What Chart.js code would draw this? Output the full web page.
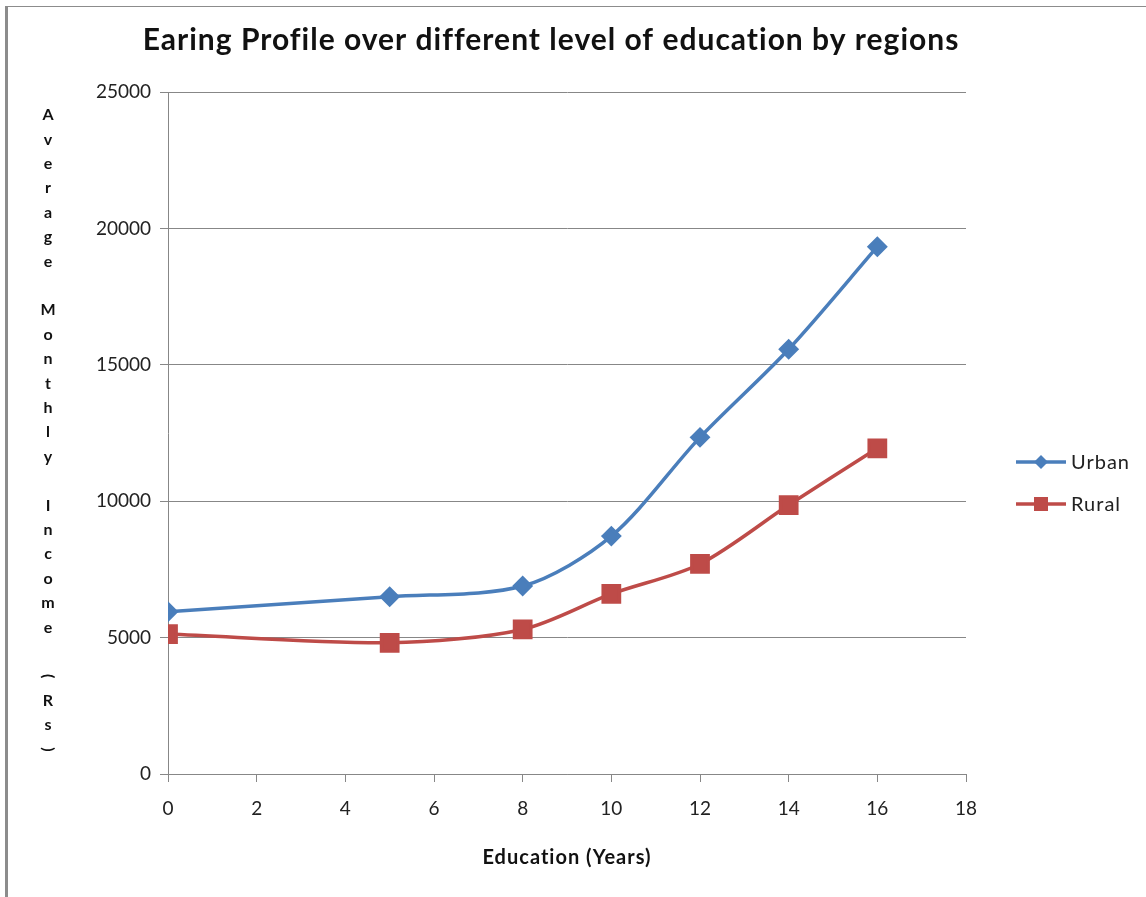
<!DOCTYPE html>
<html>
<head>
<meta charset="utf-8">
<title>Earing Profile</title>
<script src="https://cdn.jsdelivr.net/npm/chart.js@4/dist/chart.umd.min.js"></script>
<style>
  html, body { margin: 0; padding: 0; background: #fff; }
  #wrap { position: relative; width: 1146px; height: 897px; overflow: hidden; }
  #chart { position: absolute; left: 0; top: 0; }
  .edge-left { position: absolute; left: 5px; top: 6px; bottom: 0; width: 3px; background: #8c8c8c; }
  .edge-top { position: absolute; left: 5px; top: 6px; right: 0; height: 1px; background: #8c8c8c; }
</style>
</head>
<body>
<div id="wrap">
  <canvas id="chart" width="1146" height="897"></canvas>
  <div class="edge-left"></div>
  <div class="edge-top"></div>
</div>
<script>
const years = [0, 5, 8, 10, 12, 14, 16];
const urban = [5950, 6500, 6890, 8720, 12340, 15570, 19330];
const rural = [5130, 4810, 5300, 6600, 7700, 9860, 11940];
const seriesNames = ['Urban', 'Rural'];
const seriesColors = ['#4a7ebb', '#be4b48'];

const titleText = 'Earing Profile over different level of education by regions';
const xTitle = 'Education (Years)';
const yTitle = 'Average Monthly Income (Rs)';

const font = 'Lato, "Open Sans", sans-serif';
const gridColor = '#878787';

function points(ys) {
    return years.map((x, i) => ({ x: x, y: ys[i] }));
}

// title, stacked y title and legend, placed the way Excel does it
const textPlugin = {
    id: 'excelText',
    afterDraw(chart) {
        const ctx = chart.ctx;
        const area = chart.chartArea;
        ctx.save();
        ctx.fillStyle = '#111';
        ctx.textAlign = 'center';
        ctx.textBaseline = 'middle';
        ctx.letterSpacing = '1px';

        ctx.font = 'bold 30px ' + font;
        ctx.fillText(titleText, 551, 40);

        ctx.font = 'bold 20px ' + font;
        ctx.fillText(xTitle, (area.left + area.right) / 2, 858);

        // stacked letters, brackets turned on their side
        ctx.letterSpacing = '0px';
        ctx.font = 'bold 16px ' + font;
        let y = 115;
        yTitle.split('').forEach(ch => {
            if (ch === '(' || ch === ')') {
                ctx.save();
                ctx.translate(48, y);
                ctx.rotate(Math.PI / 2);
                ctx.fillText(ch, 0, 0);
                ctx.restore();
            } else if (ch !== ' ') {
                ctx.fillText(ch, 48, y);
            }
            y += 24.4;
        });

        // legend: line with the marker in the middle
        ctx.textAlign = 'left';
        ctx.letterSpacing = '1px';
        ctx.font = '20px ' + font;
        chart.data.datasets.forEach((ds, i) => {
            const ly = 462 + i * 42;
            const lx = area.right + 50;
            ctx.strokeStyle = ds.borderColor;
            ctx.lineWidth = 3.5;
            ctx.beginPath();
            ctx.moveTo(lx, ly);
            ctx.lineTo(lx + 50, ly);
            ctx.stroke();
            ctx.fillStyle = ds.backgroundColor;
            ctx.beginPath();
            if (ds.pointStyle === 'rect') {
                ctx.rect(lx + 25 - 7, ly - 7, 14, 14);
            } else {
                ctx.moveTo(lx + 25, ly - 7);
                ctx.lineTo(lx + 32, ly);
                ctx.lineTo(lx + 25, ly + 7);
                ctx.lineTo(lx + 18, ly);
                ctx.closePath();
            }
            ctx.fill();
            ctx.fillStyle = '#222';
            ctx.fillText(ds.label, lx + 55, ly + 1);
        });
        ctx.restore();
    }
};

const chart = new Chart(document.getElementById('chart').getContext('2d'), {
    type: 'scatter',
    data: {
        datasets: [
            {
                label: seriesNames[0],
                data: points(urban),
                showLine: true,
                tension: 0.3,
                borderColor: seriesColors[0],
                backgroundColor: seriesColors[0],
                borderWidth: 3.5,
                pointStyle: 'rectRot',
                pointRadius: 8,
                pointHoverRadius: 8
            },
            {
                label: seriesNames[1],
                data: points(rural),
                showLine: true,
                tension: 0.3,
                borderColor: seriesColors[1],
                backgroundColor: seriesColors[1],
                borderWidth: 3.5,
                pointStyle: 'rect',
                pointRadius: 11.5,
                pointHoverRadius: 11.5
            }
        ]
    },
    options: {
        responsive: false,
        animation: false,
        layout: { padding: { top: 92, right: 180, bottom: 0, left: 0 } },
        plugins: {
            legend: { display: false },
            title: { display: false },
            tooltip: { enabled: false }
        },
        scales: {
            x: {
                type: 'linear',
                min: 0,
                max: 18,
                afterFit: s => { s.height = 123; },
                border: { color: gridColor, width: 1 },
                grid: { drawOnChartArea: false, drawTicks: true, tickLength: 8, color: gridColor },
                ticks: { stepSize: 2, padding: 15, color: '#222', font: { family: font, size: 19 } }
            },
            y: {
                min: 0,
                max: 25000,
                afterFit: s => { s.width = 168; },
                border: { color: gridColor, width: 1 },
                grid: { drawTicks: true, tickLength: 8, color: gridColor },
                ticks: {
                    stepSize: 5000,
                    padding: 9,
                    color: '#222',
                    font: { family: font, size: 19 },
                    callback: v => String(v)
                }
            }
        }
    },
    plugins: [textPlugin]
});
</script>
</body>
</html>
